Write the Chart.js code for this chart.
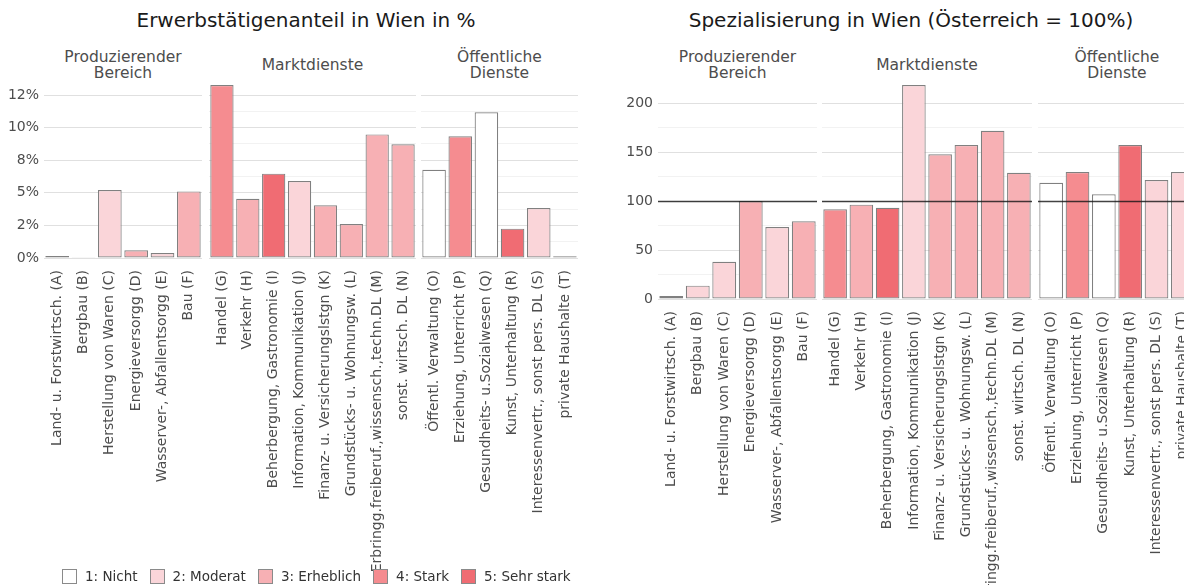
<!DOCTYPE html>
<html>
<head>
<meta charset="utf-8">
<script src="https://cdn.jsdelivr.net/npm/chart.js@4.4.1/dist/chart.umd.min.js"></script>
<style>
  body { margin: 0; background: #fff; }
  #wrap { position: relative; width: 1184px; height: 585px; overflow: hidden; font-family: "DejaVu Sans", sans-serif; }
  canvas { position: absolute; }
  .title { position: absolute; top: 8px; font-size: 20px; color: #1a1a1a; white-space: nowrap; transform: translateX(-50%); }
  .strip { position: absolute; top: 47px; height: 36px; display: flex; align-items: center; justify-content: center;
           text-align: center; font-size: 15.5px; line-height: 16.5px; color: #4d4d4d; }
  #legend { position: absolute; left: 62px; top: 568px; display: flex; align-items: center; font-size: 13.5px; color: #333; }
  #legend span.box { display: inline-block; width: 13px; height: 13px; border: 1px solid #8a8a8a; margin-right: 8px; }
  #legend span.txt { margin-right: 12px; }
</style>
</head>
<body>
<div id="wrap">
  <div class="title" style="left:306px">Erwerbstätigenanteil in Wien in %</div>
  <div class="title" style="left:911px">Spezialisierung in Wien (Österreich = 100%)</div>
  <div id="strips"></div>
  <canvas id="l1" width="202" height="512" style="left:0px;top:76px"></canvas>
  <canvas id="l2" width="207" height="512" style="left:209px;top:76px"></canvas>
  <canvas id="l3" width="157" height="512" style="left:421px;top:76px"></canvas>
  <canvas id="r1" width="207" height="554" style="left:610px;top:75px"></canvas>
  <canvas id="r2" width="210" height="554" style="left:822px;top:75px"></canvas>
  <canvas id="r3" width="158" height="554" style="left:1038px;top:75px"></canvas>
  <div id="legend"></div>
</div>
<script>
const FONT = '"DejaVu Sans", sans-serif';

// Gruppen (Facetten)
const groupNames = [["Produzierender", "Bereich"], ["Marktdienste"], ["Öffentliche", "Dienste"]];

const labelsProd = ["Land- u. Forstwirtsch. (A)", "Bergbau (B)", "Herstellung von Waren (C)",
  "Energieversorgg (D)", "Wasserver-, Abfallentsorgg (E)", "Bau (F)"];
const labelsMarkt = ["Handel (G)", "Verkehr (H)", "Beherbergung, Gastronomie (I)", "Information, Kommunikation (J)",
  "Finanz- u. Versicherungslstgn (K)", "Grundstücks- u. Wohnungsw. (L)",
  "Erbringg.freiberuf.,wissensch.,techn.DL (M)", "sonst. wirtsch. DL (N)"];
const labelsOeff = ["Öffentl. Verwaltung (O)", "Erziehung, Unterricht (P)", "Gesundheits- u.Sozialwesen (Q)",
  "Kunst, Unterhaltung (R)", "Interessenvertr., sonst pers. DL (S)", "private Haushalte (T)"];

// Erwerbstätigenanteil in %
const shareProd = [0.15, 0.02, 5.21, 0.59, 0.38, 5.11];
const shareMarkt = [13.27, 4.55, 6.47, 5.9, 4.04, 2.61, 9.48, 8.72];
const shareOeff = [6.77, 9.33, 11.17, 2.25, 3.83, 0.13];

// Spezialisierung (Österreich = 100)
const specProd = [3, 13.6, 38, 100, 73.5, 79.3];
const specMarkt = [91.5, 96.3, 93.2, 218.4, 147.6, 157.1, 171.7, 128.9];
const specOeff = [118.7, 129.6, 106.8, 157.1, 121.4, 129.6];

// Stufe 1..5
const levelProd = [2, 2, 2, 3, 2, 3];
const levelMarkt = [4, 3, 5, 2, 3, 3, 3, 3];
const levelOeff = [1, 4, 1, 5, 2, 2];

const levelNames = ["1: Nicht", "2: Moderat", "3: Erheblich", "4: Stark", "5: Sehr stark"];
const levelColors = ["#ffffff", "#fad5d9", "#f7b0b4", "#f58c90", "#f06c73"];

// Achsen
const shareMajor = [0, 2.5, 5, 7.5, 10, 12.5];
const shareMinor = [1.25, 3.75, 6.25, 8.75, 11.25];
const shareTickText = ["0%", "2%", "5%", "8%", "10%", "12%"];
const shareMax = 13.96;

const specMajor = [0, 50, 100, 150, 200];
const specMinor = [25, 75, 125, 175];
const specTickText = ["0", "50", "100", "150", "200"];
const specMax = 228.6;
const specRef = 100;

const XH = 330;

const refLine = v => ({
  id: 'refline',
  afterDatasetsDraw(chart) {
    const { ctx, chartArea: a, scales: { y } } = chart;
    const py = Math.round(y.getPixelForValue(v)) + 0.5;
    ctx.save();
    ctx.strokeStyle = 'rgba(20,20,20,0.8)';
    ctx.lineWidth = 1.3;
    ctx.beginPath();
    ctx.moveTo(a.left, py);
    ctx.lineTo(a.right, py);
    ctx.stroke();
    ctx.restore();
  }
});

function facet(id, labels, values, levels, ax) {
  const showY = ax.yWidth > 0;
  const allTicks = ax.major.concat(ax.minor).sort((a, b) => a - b);
  return new Chart(document.getElementById(id), {
    type: 'bar',
    data: {
      labels: labels,
      datasets: [{
        data: values,
        backgroundColor: levels.map(l => levelColors[l - 1]),
        borderColor: '#808080',
        borderWidth: 1.2,
        borderSkipped: false,
        barPercentage: 0.9,
        categoryPercentage: 1
      }]
    },
    options: {
      responsive: false,
      animation: false,
      devicePixelRatio: 1,
      layout: { padding: 0 },
      plugins: { legend: { display: false }, tooltip: { enabled: false } },
      scales: {
        x: {
          grid: { display: false },
          border: { display: false },
          ticks: {
            autoSkip: false, minRotation: 90, maxRotation: 90, padding: 4,
            color: '#4d4d4d', font: { family: FONT, size: 14 }
          },
          afterFit: s => { s.height = XH; s.paddingLeft = 0; s.paddingRight = 0; }
        },
        y: {
          min: 0, max: ax.max,
          border: { display: false },
          grid: {
            drawTicks: false,
            color: c => ax.major.includes(c.tick.value) ? '#e0e0e0' : '#f2f2f2',
            lineWidth: 1
          },
          ticks: {
            display: showY, padding: 5, color: '#4d4d4d', font: { family: FONT, size: 14 },
            callback: v => { const i = ax.major.indexOf(v); return i >= 0 ? ax.tickText[i] : ''; }
          },
          afterBuildTicks: s => { s.ticks = allTicks.map(v => ({ value: v })); },
          afterFit: s => { s.width = ax.yWidth; s.paddingTop = 0; s.paddingBottom = 0; }
        }
      }
    },
    plugins: ax.ref != null ? [refLine(ax.ref)] : []
  });
}

const shareAx = w => ({ major: shareMajor, minor: shareMinor, tickText: shareTickText, max: shareMax, yWidth: w });
const specAx = w => ({ major: specMajor, minor: specMinor, tickText: specTickText, max: specMax, yWidth: w, ref: specRef });

facet('l1', labelsProd, shareProd, levelProd, shareAx(44));
facet('l2', labelsMarkt, shareMarkt, levelMarkt, shareAx(0));
facet('l3', labelsOeff, shareOeff, levelOeff, shareAx(0));
facet('r1', labelsProd, specProd, levelProd, specAx(48));
facet('r2', labelsMarkt, specMarkt, levelMarkt, specAx(0));
facet('r3', labelsOeff, specOeff, levelOeff, specAx(0));

// Streifen-Beschriftung der Facetten
const stripPos = [[44, 158], [209, 207], [421, 157], [658, 159], [822, 210], [1038, 158]];
const strips = document.getElementById('strips');
stripPos.forEach((p, i) => {
  const d = document.createElement('div');
  d.className = 'strip';
  d.style.left = p[0] + 'px';
  d.style.width = p[1] + 'px';
  d.innerHTML = groupNames[i % 3].join('<br>');
  strips.appendChild(d);
});

// Legende
const legend = document.getElementById('legend');
levelNames.forEach((n, i) => {
  legend.insertAdjacentHTML('beforeend',
    `<span class="box" style="background:${levelColors[i]}"></span><span class="txt">${n}</span>`);
});
</script>
</body>
</html>
